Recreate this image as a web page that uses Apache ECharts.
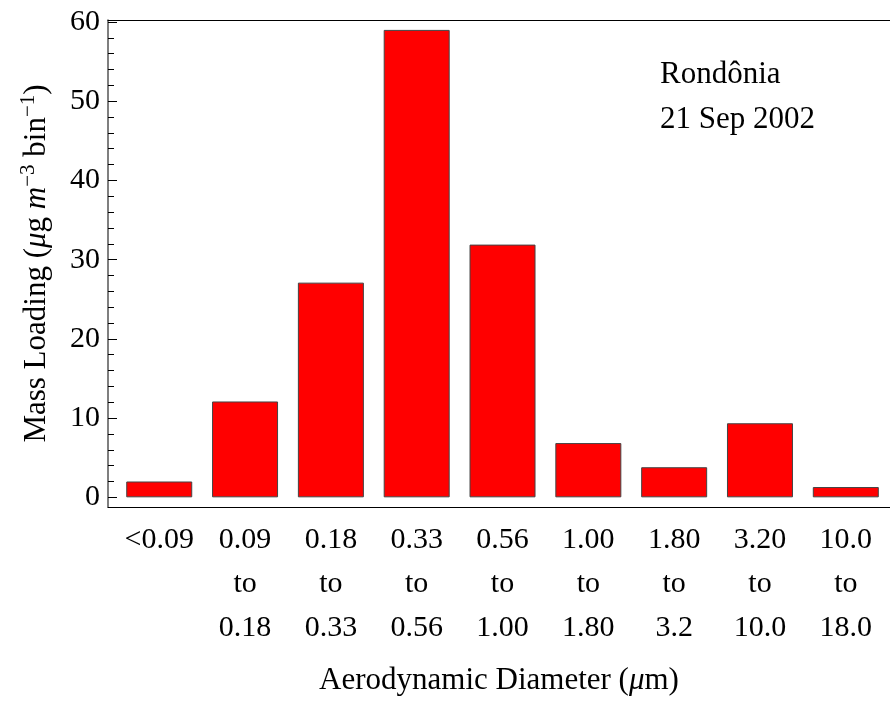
<!DOCTYPE html>
<html>
<head>
<meta charset="utf-8">
<script src="https://cdn.jsdelivr.net/npm/echarts@6/dist/echarts.min.js"></script>
<style>
html,body{margin:0;padding:0;background:#fff;}
#chart{width:890px;height:701px;}
</style>
</head>
<body>
<div id="chart"></div>
<script>
// ---- data ----
const categories = ['<0.09', '0.09\nto\n0.18', '0.18\nto\n0.33', '0.33\nto\n0.56', '0.56\nto\n1.00', '1.00\nto\n1.80', '1.80\nto\n3.2', '3.20\nto\n10.0', '10.0\nto\n18.0'];
const massLoading = [2.0, 12.1, 27.1, 59.0, 31.9, 6.85, 3.8, 9.35, 1.3];
const yMajorTicks = [0, 10, 20, 30, 40, 50, 60];
const yMinorTicks = [2, 4, 6, 8, 12, 14, 16, 18, 22, 24, 26, 28, 32, 34, 36, 38, 42, 44, 46, 48, 52, 54, 56, 58];
const categoryPositions = [1, 2, 3, 4, 5, 6, 7, 8, 9];

const FONT = '"Liberation Serif", "Times New Roman", serif';
const chart = echarts.init(document.getElementById('chart'), null, {renderer: 'canvas'});

const seriesData = massLoading.map((v, i) => [categoryPositions[i], v]);

chart.setOption({
  animation: false,
  backgroundColor: '#fff',
  grid: {left: 108, right: 0, top: 20, bottom: 193, containLabel: false},
  xAxis: [{
    type: 'value', min: 0.403, max: 9.515,
    position: 'bottom',
    axisLine: {show: true, onZero: false, lineStyle: {color: '#000', width: 1}},
    axisTick: {show: false},
    splitLine: {show: false},
    axisLabel: {
      customValues: categoryPositions,
      formatter: v => categories[Math.round(v) - 1],
      color: '#000', fontFamily: FONT, fontSize: 30, lineHeight: 44, margin: 11,
      verticalAlign: 'top'
    },
    name: '{n|Aerodynamic Diameter (}{i|\u03bc}{n|m)}',
    nameLocation: 'middle', nameGap: 158,
    nameTextStyle: {
      color: '#000', fontFamily: FONT, fontSize: 31,
      rich: {n: {fontFamily: FONT, fontSize: 31, color: '#000'}, i: {fontFamily: FONT, fontSize: 31, fontStyle: 'italic', color: '#000'}}
    }
  }, {
    type: 'value', min: 0.403, max: 9.515,
    position: 'top',
    axisLine: {show: true, onZero: false, lineStyle: {color: '#000', width: 1}},
    axisTick: {show: false}, axisLabel: {show: false}, splitLine: {show: false}
  }],
  yAxis: [{
    type: 'value', min: -1.22, max: 60.25,
    position: 'left',
    axisLine: {show: true, onZero: false, lineStyle: {color: '#555', width: 1.5}},
    axisTick: {show: true, inside: true, length: 9, customValues: yMajorTicks, lineStyle: {color: '#000'}},
    axisLabel: {customValues: yMajorTicks, color: '#000', fontFamily: FONT, fontSize: 30, margin: 8},
    splitLine: {show: false},
    name: '{n|Mass Loading (}{i|\u03bc}{n|g }{i|m}{sup|\u22123}{n| bin}{sup|\u22121}{n|)}',
    nameLocation: 'middle', nameRotate: 90, nameGap: 52,
    nameTextStyle: {
      color: '#000', fontFamily: FONT, fontSize: 31,
      rich: {
        n: {fontFamily: FONT, fontSize: 31, color: '#000', lineHeight: 38},
        i: {fontFamily: FONT, fontSize: 31, fontStyle: 'italic', color: '#000', lineHeight: 38},
        sup: {fontFamily: FONT, fontSize: 21, color: '#000', verticalAlign: 'top', lineHeight: 38}
      }
    }
  }, {
    type: 'value', min: -1.22, max: 60.25,
    position: 'left',
    axisLine: {show: false},
    axisTick: {show: true, inside: true, length: 6, customValues: yMinorTicks, lineStyle: {color: '#000'}},
    axisLabel: {show: false},
    splitLine: {show: false}
  }],
  graphic: [{
    type: 'text', left: 660, top: 52,
    style: {text: 'Rondônia\n21 Sep 2002', font: '31px ' + FONT, fill: '#000', lineHeight: 45}
  }],
  series: [{
    type: 'bar', xAxisIndex: 0, yAxisIndex: 0,
    data: seriesData,
    barWidth: 66,
    itemStyle: {color: '#ff0000', borderColor: '#444', borderWidth: 1}
  }]
});
</script>
</body>
</html>
